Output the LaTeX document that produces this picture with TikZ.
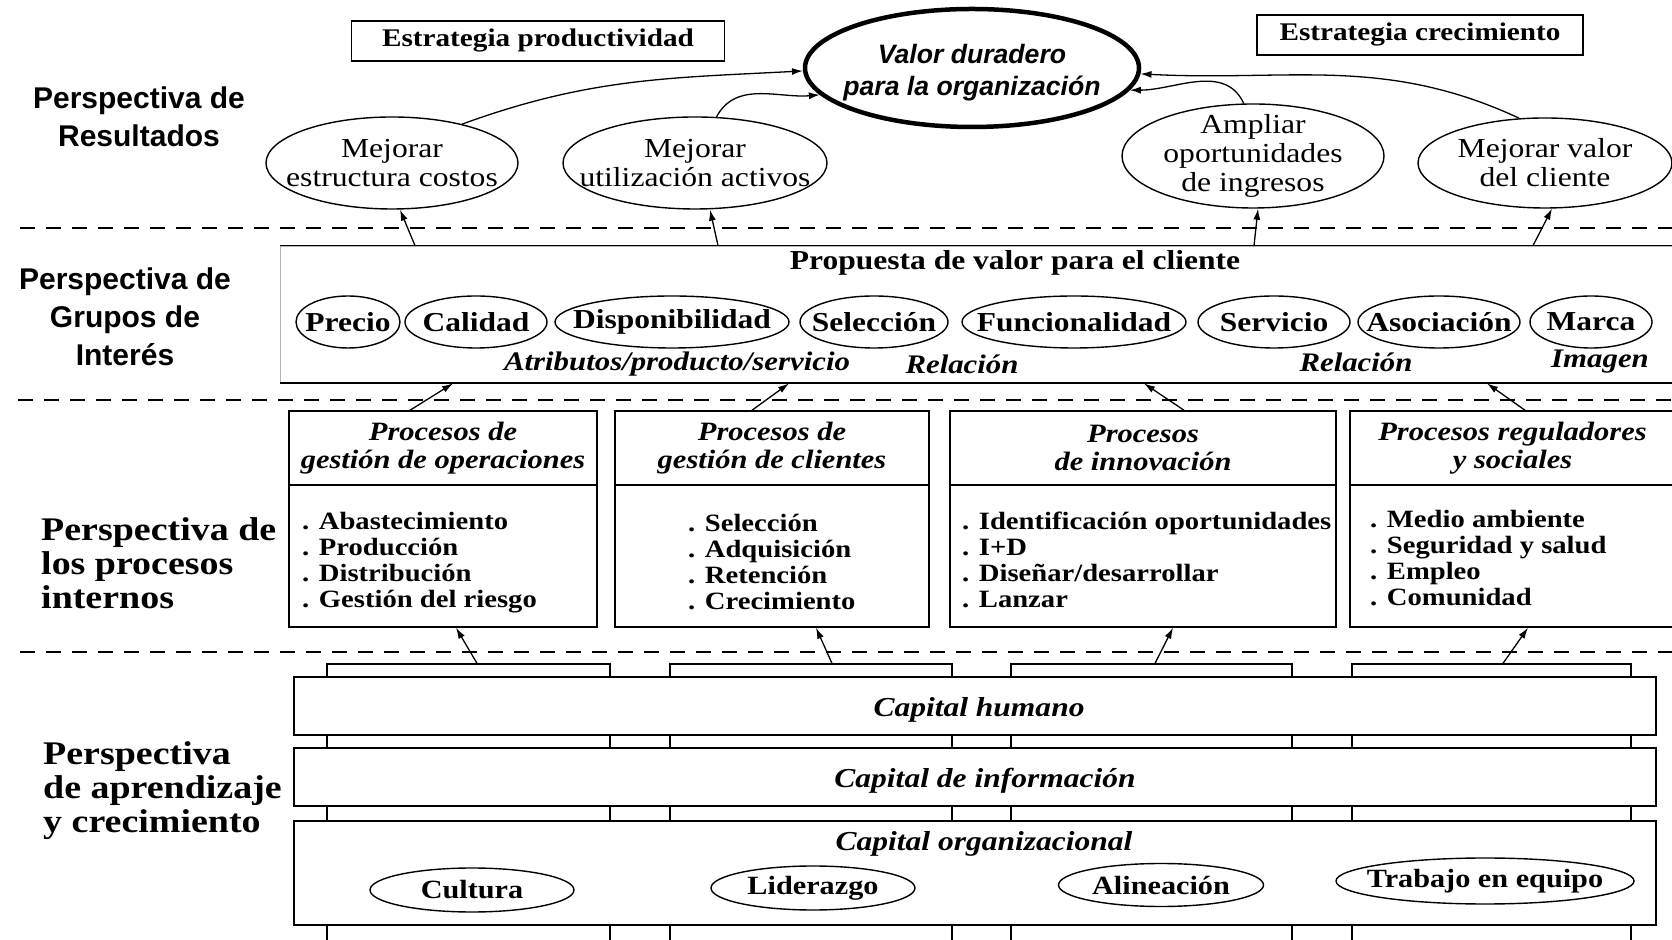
\documentclass[tikz,border=0pt]{standalone}
\usepackage{fontspec}
\setmainfont{Liberation Serif}[FakeStretch=1.15]
\setsansfont{Liberation Sans}
\usepackage{tikz}
\usetikzlibrary{shapes,arrows.meta,positioning}

\tikzset{
  persp/.style={font=\sffamily\bfseries\fontsize{30}{38}\selectfont,align=center,inner sep=0pt},
  perspser/.style={font=\bfseries\fontsize{33}{34}\selectfont,align=left,inner sep=0pt,anchor=west},
  strat/.style={draw,line width=1.5pt,font=\bfseries\fontsize{25.4}{28}\selectfont,minimum height=40pt,inner sep=0pt},
  valor/.style={draw,ellipse,line width=4.5pt,minimum width=334pt,minimum height=118pt,inner sep=0pt},
  goal/.style={draw,ellipse,line width=1.4pt,font=\fontsize{27.5}{29}\selectfont,align=center,inner sep=-30pt},
  attr/.style={draw,ellipse,line width=1.4pt,font=\bfseries\fontsize{27.4}{29}\selectfont,minimum height=52pt,inner sep=-30pt},
  reltxt/.style={font=\bfseries\itshape\fontsize{26.8}{28}\selectfont,inner sep=0pt},
  prochead/.style={draw,line width=1.5pt,font=\bfseries\itshape\fontsize{26.5}{28}\selectfont,align=center,minimum height=74pt,inner sep=0pt},
  procbody/.style={draw,line width=1.5pt,minimum height=142pt,inner sep=0pt},
  items/.style={font=\bfseries\fontsize{24.9}{26}\selectfont,align=left,inner sep=0pt,anchor=west},
  pillar/.style={draw,line width=1.3pt,minimum height=295pt,inner sep=0pt},
  slab/.style={draw,fill=white,line width=1.5pt,minimum width=1362pt,inner sep=0pt},
  captxt/.style={font=\bfseries\itshape\fontsize{27.4}{29}\selectfont,inner sep=0pt},
  org/.style={draw,ellipse,line width=1.4pt,font=\bfseries\fontsize{26.3}{28}\selectfont,inner sep=-30pt},
  link/.style={-{Latex[length=11pt,width=7pt]},line width=1.3pt},
  divide/.style={line width=1.8pt,dash pattern=on 15pt off 11pt}
}

\begin{document}
\begin{tikzpicture}[x=1pt,y=1pt]
\useasboundingbox (0,0) rectangle (1672,939);

\node[persp] (lres) at (139,822) {Perspectiva de\\Resultados};
\node[persp] (lgrp) at (125,622) {Perspectiva de\\Grupos de\\Interés};
\node[perspser] (lproc) at (41,376) {Perspectiva de\\los procesos\\internos};
\node[perspser] (lapr) at (43,148) {Perspectiva\\de aprendizaje\\y crecimiento};

\draw[divide] (20,711) -- (1672,711);
\draw[divide] (18,539) -- (1672,539);
\draw[divide] (20,287) -- (1672,287);

\node[strat,minimum width=373pt] (prod) at (538,898) {Estrategia productividad};
\node[strat,minimum width=326pt] (crec) at (1420,904) {Estrategia crecimiento};
\node[valor] (val) at (972,871) {};
\node[font=\sffamily\bfseries\itshape\fontsize{26.6}{32}\selectfont,align=center,inner sep=0pt] (valtxt) at (972,866) {Valor duradero\\para la organización};

\node[goal,minimum width=252pt,minimum height=92pt] (r1) at (392,776) {Mejorar\\estructura costos};
\node[goal,minimum width=264pt,minimum height=92pt] (r2) at (695,776) {Mejorar\\utilización activos};
\node[goal,minimum width=262pt,minimum height=104pt] (r3) at (1253,783) {Ampliar\\oportunidades\\de ingresos};
\node[goal,minimum width=254pt,minimum height=90pt] (r4) at (1545,776) {Mejorar valor\\del cliente};

\draw[link] (r1.29) to[out=20,in=183] (val.181);
\draw[link] (r2.65) to[out=62,in=185] (val.190);
\draw[link] (r3.100) to[out=115,in=0] (val.-8);
\draw[link] (r4.120) to[out=155,in=-3] (val.-2);

\node[draw=black!30,line width=0.8pt,minimum width=1400pt,minimum height=137pt,inner sep=0pt] (grp) at (980,624.5) {};
\draw[line width=1.8pt] (grp.north west) -- (grp.north east);
\draw[line width=1.8pt] (grp.south west) -- (grp.south east);
\node[font=\bfseries\fontsize{27.4}{29}\selectfont,inner sep=0pt] (prop) at (1015,676) {Propuesta de valor para el cliente};

\node[attr,minimum width=104pt] (a1) at (348,617) {Precio};
\node[attr,minimum width=142pt] (a2) at (476,617) {Calidad};
\node[attr,minimum width=234pt] (a3) at (672,617) {Disponibilidad};
\node[attr,minimum width=148pt] (a4) at (874,617) {Selección};
\node[attr,minimum width=224pt] (a5) at (1074,617) {Funcionalidad};
\node[attr,minimum width=152pt] (a6) at (1274,617) {Servicio};
\node[attr,minimum width=162pt] (a7) at (1439,617) {Asociación};
\node[attr,minimum width=122pt] (a8) at (1591,617) {Marca};

\node[reltxt] (t1) at (677,575) {Atributos/producto/servicio};
\node[reltxt] (t2) at (962,575) {Relación};
\node[reltxt] (t3) at (1356,577) {Relación};
\node[reltxt] (t4) at (1600,577) {Imagen};

\draw[link] ([xshift=-565pt]grp.north) -- ([xshift=8pt]r1.south);
\draw[link] ([xshift=-262pt]grp.north) -- ([xshift=15pt]r2.south);
\draw[link] ([xshift=274pt]grp.north) -- ([xshift=5pt]r3.south);
\draw[link] ([xshift=553pt]grp.north) -- ([xshift=7pt]r4.south);

\node[prochead,minimum width=308pt] (o1h) at (443,491) {Procesos de\\gestión de operaciones};
\node[procbody,minimum width=308pt] (o1) at (443,383) {};
\node[prochead,minimum width=314pt] (o2h) at (772,491) {Procesos de\\gestión de clientes};
\node[procbody,minimum width=314pt] (o2) at (772,383) {};
\node[prochead,minimum width=386pt] (o3h) at (1143,491) {Procesos\\de innovación};
\node[procbody,minimum width=386pt] (o3) at (1143,383) {};
\node[prochead,minimum width=325pt] (o4h) at (1512.5,491) {Procesos reguladores\\y sociales};
\node[procbody,minimum width=325pt] (o4) at (1512.5,383) {};

\node[items] (i1) at (302,376) {. Abastecimiento\\. Producción\\. Distribución\\. Gestión del riesgo};
\node[items] (i2) at (688,377) {. Selección\\. Adquisición\\. Retención\\. Crecimiento};
\node[items] (i3) at (962,379) {. Identificación oportunidades\\. I+D\\. Diseñar/desarrollar\\. Lanzar};
\node[items] (i4) at (1370,381) {. Medio ambiente\\. Seguridad y salud\\. Empleo\\. Comunidad};

\draw[link] ([xshift=-33pt]o1h.north) -- ([xshift=-527pt]grp.south);
\draw[link] ([xshift=-20pt]o2h.north) -- ([xshift=-191pt]grp.south);
\draw[link] ([xshift=41pt]o3h.north) -- ([xshift=164pt]grp.south);
\draw[link] ([xshift=12.5pt]o4h.north) -- ([xshift=507pt]grp.south);

\node[pillar,minimum width=283pt] (c1) at (468.5,127.5) {};
\node[pillar,minimum width=282pt] (c2) at (811,127.5) {};
\node[pillar,minimum width=281pt] (c3) at (1151.5,127.5) {};
\node[pillar,minimum width=279pt] (c4) at (1491.5,127.5) {};

\node[slab,minimum height=58pt] (s1) at (975,233) {};
\node[slab,minimum height=58pt] (s2) at (975,162) {};
\node[slab,minimum height=104pt] (s3) at (975,66) {};
\node[captxt] (chum) at (979,229) {Capital humano};
\node[captxt] (cinf) at (985,158) {Capital de información};
\node[captxt] (corg) at (984,95) {Capital organizacional};

\node[org,minimum width=204pt,minimum height=44pt] (e1) at (472,49) {Cultura};
\node[org,minimum width=204pt,minimum height=44pt] (e2) at (813,51) {Liderazgo};
\node[org,minimum width=205pt,minimum height=43pt] (e3) at (1161,54) {Alineación};
\node[org,minimum width=298pt,minimum height=46pt] (e4) at (1485,58) {Trabajo en equipo};

\draw[link] ([xshift=8.5pt]c1.north) -- ([xshift=13pt]o1.south);
\draw[link] ([xshift=21pt]c2.north) -- ([xshift=44pt]o2.south);
\draw[link] ([xshift=3.5pt]c3.north) -- ([xshift=30pt]o3.south);
\draw[link] ([xshift=11.5pt]c4.north) -- ([xshift=15.5pt]o4.south);
\end{tikzpicture}
\end{document}
